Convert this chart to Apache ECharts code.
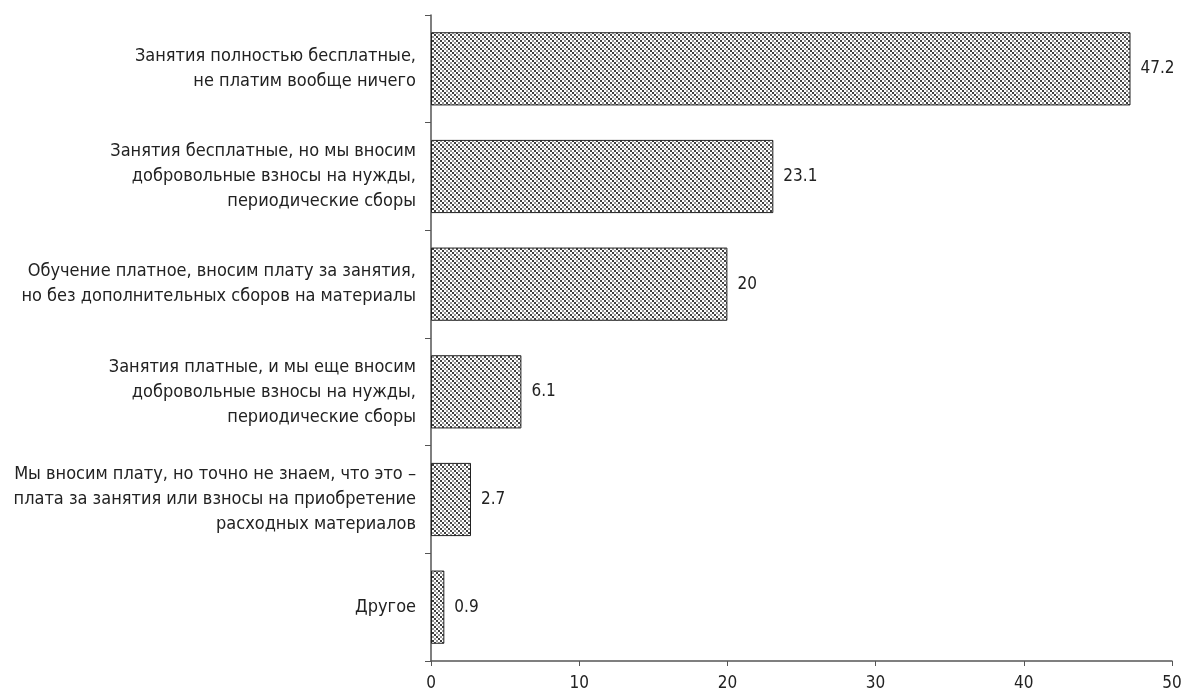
<!DOCTYPE html>
<html><head><meta charset="utf-8">
<script src="https://cdn.jsdelivr.net/npm/echarts@6/dist/echarts.min.js"></script>
<style>html,body{margin:0;padding:0;background:#fff}#c{width:1185px;height:693px}</style>
</head><body><div id="c"></div>
<script>
const categories = [
  "Занятия полностью бесплатные,\nне платим вообще ничего",
  "Занятия бесплатные, но мы вносим\nдобровольные взносы на нужды,\nпериодические сборы",
  "Обучение платное, вносим плату за занятия,\nно без дополнительных сборов на материалы",
  "Занятия платные, и мы еще вносим\nдобровольные взносы на нужды,\nпериодические сборы",
  "Мы вносим плату, но точно не знаем, что это –\nплата за занятия или взносы на приобретение\nрасходных материалов",
  "Другое"
];
const values = [47.2, 23.1, 20, 6.1, 2.7, 0.9];
const xTicks = [0, 10, 20, 30, 40, 50];

function makePattern() {
  const c = document.createElement('canvas');
  c.width = 8; c.height = 8;
  const g = c.getContext('2d');
  g.fillStyle = '#fff'; g.fillRect(0, 0, 8, 8);
  const pts = [[0,0,1],[2,2,1],[4,4,1],[6,6,1],[4,0,0],[6,2,0],[0,4,0],[2,6,0]];
  pts.forEach(([x, y, d]) => {
    g.fillStyle = d ? '#3f3f3f' : '#949494';
    g.fillRect(x, y, 2, 2);
  });
  return c;
}

const chart = echarts.init(document.getElementById('c'), null, {renderer: 'canvas'});
const font = "'Liberation Sans Narrow', 'DejaVu Sans Condensed', 'Open Sans', sans-serif";
chart.setOption({
  animation: false,
  grid: {left: 431, right: 13, top: 15, bottom: 32, containLabel: false},
  xAxis: {
    type: 'value', min: 0, max: 50, interval: 10,
    axisLine: {show: true, lineStyle: {color: '#555', width: 1.5}},
    axisTick: {show: true, length: 5, lineStyle: {color: '#555'}},
    splitLine: {show: false},
    axisLabel: {color: '#222', fontSize: 17, fontFamily: font, margin: 14,
      formatter: v => xTicks.includes(v) ? String(v) : ''}
  },
  yAxis: {
    type: 'category', data: categories, inverse: true,
    axisLine: {show: true, lineStyle: {color: '#555', width: 1.5}},
    axisTick: {show: true, length: 6, lineStyle: {color: '#555'}},
    axisLabel: {color: '#222', fontSize: 18, fontFamily: font, lineHeight: 25, margin: 15, align: 'right'}
  },
  series: [{
    type: 'bar', data: values, barWidth: '68%',
    itemStyle: {color: {image: makePattern(), repeat: 'repeat'}, borderColor: '#222', borderWidth: 1},
    label: {show: true, position: 'right', distance: 10, color: '#222', fontSize: 17, fontFamily: font}
  }]
});
</script></body></html>
